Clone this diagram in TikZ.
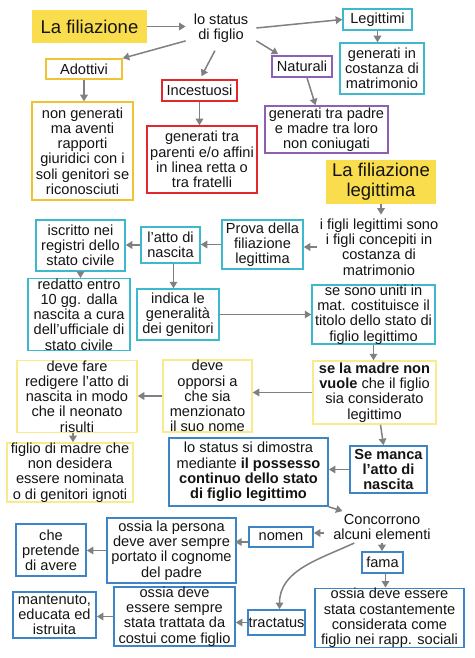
\documentclass[tikz,border=0pt]{standalone}
\usepackage{fontspec}
\setmainfont{Liberation Sans}
\usetikzlibrary{arrows.meta,calc}
\definecolor{yfill}{RGB}{250,221,77}
\definecolor{yborder}{RGB}{241,194,50}
\definecolor{lyborder}{RGB}{249,234,140}
\definecolor{cyanc}{RGB}{60,185,205}
\definecolor{redc}{RGB}{225,40,45}
\definecolor{purplec}{RGB}{142,96,180}
\definecolor{bluec}{RGB}{61,133,198}
\definecolor{arrowgray}{RGB}{128,128,128}
\definecolor{textc}{RGB}{20,20,20}
\newcommand\mybox[7]{\node[#1, minimum width={#5-#3}, minimum height={#6-#4}] (#2) at ({(#3+#5)/2},{(#4+#6)/2}) {#7};}
\begin{document}
\begin{tikzpicture}[x=1pt,y=-1pt,
  txt/.style={font=\fontsize{14.6}{15.2}\selectfont, text=textc, align=center, inner sep=0pt},
  ttl/.style={font=\fontsize{18.5}{20}\selectfont, text=textc, align=center, inner sep=0pt, fill=yfill},
  ybox/.style={txt, draw=yborder, line width=1.5pt},
  lybox/.style={txt, draw=lyborder, line width=1.5pt},
  cbox/.style={txt, draw=cyanc, line width=1.5pt},
  rbox/.style={txt, draw=redc, line width=1.5pt},
  pbox/.style={txt, draw=purplec, line width=1.5pt},
  bbox/.style={txt, draw=bluec, line width=1.7pt},
  plain/.style={txt},
  arr/.style={draw=arrowgray, line width=1.5pt, -{Triangle[length=6.5pt,width=7.5pt]}}
]
\fill[white] (0,0) rectangle (474,658);
\useasboundingbox (0,0) rectangle (474,658);

% top part
\mybox{ttl}{title1}{32}{10}{147}{43}{La filiazione}
\node[plain, inner xsep=8pt, inner ysep=8pt] (status) at (221,28) {lo status\\di figlio};
\mybox{cbox}{legittimi}{343}{9}{412}{30}{Legittimi}
\mybox{cbox}{legdesc}{340}{43}{424}{94}{generati in\\costanza di\\matrimonio}
\mybox{ybox}{adottivi}{46}{59}{122}{79}{Adottivi}
\mybox{ybox}{adodesc}{32}{102}{133}{200}{non generati\\ma aventi\\rapporti\\giuridici con i\\soli genitori se\\riconosciuti}
\mybox{rbox}{incestuosi}{162}{80}{237}{101}{Incestuosi}
\mybox{rbox}{incdesc}{147}{126}{257}{193}{generati tra\\parenti e/o affini\\in linea retta o\\tra fratelli}
\mybox{pbox}{naturali}{272}{56}{332}{77}{Naturali}
\mybox{pbox}{natdesc}{265}{106}{388}{153}{generati tra padre\\e madre tra loro\\non coniugati}

% legittima
\mybox{ttl}{title2}{326}{160}{436}{204}{La filiazione\\legittima}
\node[plain, inner xsep=3pt, inner ysep=4pt] (legdef) at (379,247) {i figli legittimi sono\\i figli concepiti in\\costanza di\\matrimonio};
\mybox{cbox}{prova}{222}{220}{303}{269}{Prova della\\filiazione\\legittima}
\mybox{cbox}{atto}{141}{227}{200}{263}{l'atto di\\nascita}
\mybox{cbox}{iscritto}{36}{220}{125}{271}{iscritto nei\\registri dello\\stato civile}
\mybox{cbox}{redatto}{28}{281}{130}{348}{redatto entro\\10 gg. dalla\\nascita a cura\\dell'ufficiale di\\stato civile}
\mybox{cbox}{indica}{137}{289}{219}{340}{indica le\\generalità\\dei genitori}
\mybox{cbox}{seuniti}{312}{285}{435}{344}{se sono uniti in\\mat. costituisce il\\titolo dello stato di\\figlio legittimo}

% madre
\mybox{lybox}{madre}{313}{361}{436}{424}{\textbf{se la madre non}\\\textbf{vuole} che il figlio\\sia considerato\\legittimo}
\mybox{lybox}{opporsi}{163}{362}{252}{430}{deve\\opporsi a\\che sia\\menzionato\\il suo nome}
\mybox{lybox}{redigere}{17}{361}{137}{432}{deve fare\\redigere l'atto di\\nascita in modo\\che il neonato\\risulti}
\mybox{lybox}{ignoti}{7}{443}{133}{502}{figlio di madre che\\non desidera\\essere nominata\\o di genitori ignoti}

% possesso
\mybox{bbox}{semanca}{350}{446}{427}{493}{\textbf{Se manca}\\\textbf{l'atto di}\\\textbf{nascita}}
\mybox{bbox}{possesso}{169}{438}{328}{506}{lo status si dimostra\\mediante \textbf{il possesso}\\\textbf{continuo dello stato}\\\textbf{di figlio legittimo}}
\node[plain, inner xsep=3pt, inner ysep=3pt] (concorrono) at (382,527) {Concorrono\\alcuni elementi};
\mybox{bbox}{nomen}{249}{527}{313}{547}{nomen}
\mybox{bbox}{nomendesc}{107}{518}{236}{583}{ossia la persona\\deve aver sempre\\portato il cognome\\del padre}
\mybox{bbox}{pretende}{16}{524}{86}{576}{che\\pretende\\di avere}
\mybox{bbox}{fama}{362}{552}{403}{573}{fama}
\mybox{bbox}{famadesc}{315}{589}{464}{647}{ossia deve essere\\stata costantemente\\considerata come\\figlio nei rapp. sociali}
\mybox{bbox}{tractatus}{248}{610}{305}{635}{tractatus}
\mybox{bbox}{tractdesc}{114}{588}{235}{645}{ossia deve\\essere sempre\\stata trattata da\\costui come figlio}
\mybox{bbox}{mantenuto}{13}{592}{96}{638}{mantenuto,\\educata ed\\istruita}

% arrows
\draw[arr] (title1.east) -- (status.west |- title1.east);
\draw[arr] (status.east) -- (legittimi.west);
\draw[arr] (legittimi.south) -- (legittimi.south |- legdesc.north);
\draw[arr] (status.200) -- (adottivi.north east);
\draw[arr] (adottivi.south) -- (adottivi.south |- adodesc.north);
\draw[arr] (status.255) -- ($(incestuosi.north)+(2,-3)$);
\draw[arr] (incestuosi.south) -- (incestuosi.south |- incdesc.north);
\draw[arr] (status.-20) -- ($(naturali.north west)+(7,-1)$);
\draw[arr] ($(naturali.south)+(5,0)$) -- ($(natdesc.north)+(-11,0)$);

\draw[arr] (title2.south) -- (title2.south |- legdef.north);
\draw[arr] (legdef.west) -- (legdef.west -| prova.east);
\draw[arr] (prova.west) -- (prova.west -| atto.east);
\draw[arr] (atto.west) -- (atto.west -| iscritto.east);
\draw[arr] (iscritto.south) -- (iscritto.south |- redatto.north);
\draw[arr] ($(atto.south)+(3,0)$) -- ($(atto.south |- indica.north)+(3,0)$);
\draw[arr] (indica.east) -- (indica.east -| seuniti.west);
\draw[arr] (seuniti.south) -- (seuniti.south |- madre.north);

\draw[arr] (madre.west) -- (madre.west -| opporsi.east);
\draw[arr] (opporsi.west) -- (opporsi.west -| redigere.east);
\draw[arr] ($(redigere.south)+(-4,0)$) -- ($(redigere.south |- ignoti.north)+(-4,0)$);
\draw[arr] ($(madre.south)+(6,0)$) -- ($(semanca.north)+(-5,0)$);
\draw[arr] (semanca.west) -- (semanca.west -| possesso.east);
\draw[arr] (possesso.south east) -- (concorrono.158);
\draw[arr] ($(concorrono.west)+(-6,6)$) -- ($(nomen.east)+(0,-4)$);
\draw[arr] ($(nomen.west)+(0,5)$) -- ($(nomen.west)+(-13,5)$);
\draw[arr] (nomendesc.west) -- (nomendesc.west -| pretende.east);
\draw[arr] (concorrono.south) -- (concorrono.south |- fama.north);
\draw[arr] ($(fama.south)+(3,0)$) -- ($(fama.south |- famadesc.north)+(3,0)$);
\draw[arr] (concorrono.210) to[out=205,in=90] ($(tractatus.north)+(3,0)$);
\draw[arr] (tractatus.west) -- (tractatus.west -| tractdesc.east);
\draw[arr] (tractdesc.west) -- (tractdesc.west -| mantenuto.east);
\end{tikzpicture}
\end{document}
